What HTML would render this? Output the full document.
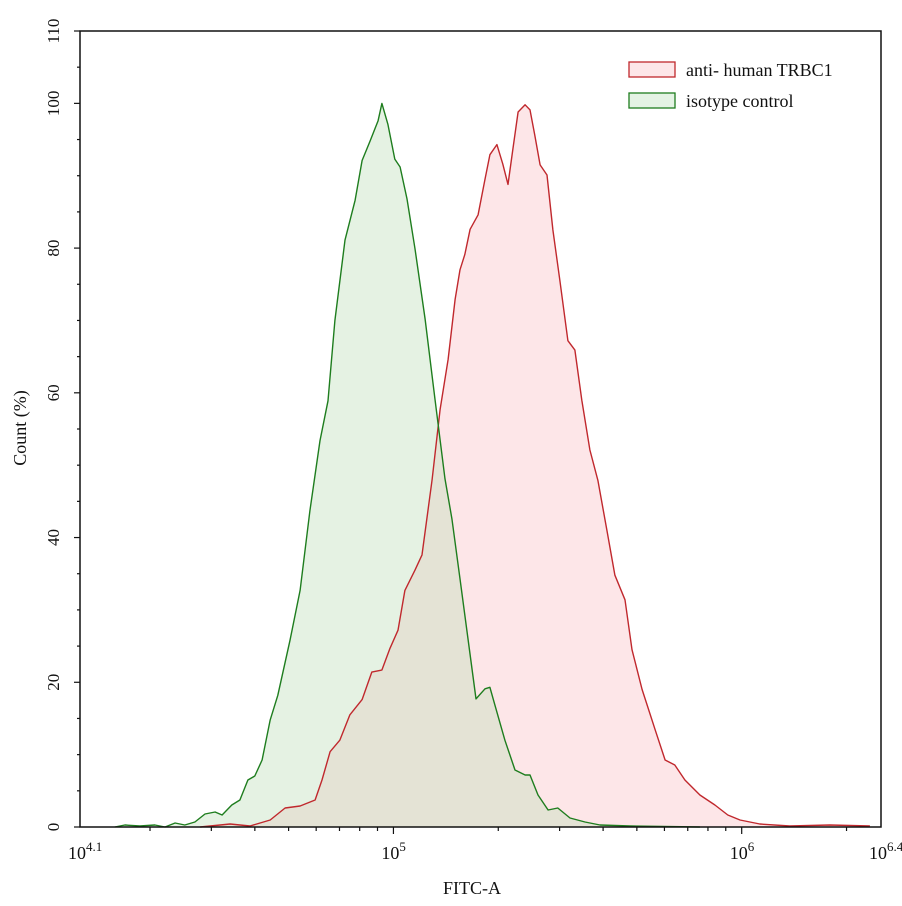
<!DOCTYPE html>
<html><head><meta charset="utf-8"><style>
body{margin:0;background:#fff}
svg{display:block;font-family:"Liberation Serif",serif}
</style></head><body>
<svg id="chart" width="902" height="906" viewBox="0 0 902 906">
<g id="fills"></g><g id="lines"></g><g id="axes"></g>
<g>
<rect x="629" y="62" width="46" height="15" fill="#fde6e8" stroke="#c0282d" stroke-width="1.3"/>
<text x="686" y="76" font-size="18" fill="#111">anti- human TRBC1</text>
<rect x="629" y="93" width="46" height="15" fill="#e4f3e4" stroke="#1e7d1e" stroke-width="1.3"/>
<text x="686" y="107" font-size="18" fill="#111">isotype control</text>
</g>
<text x="472" y="894" font-size="18" text-anchor="middle" fill="#111">FITC-A</text>
<text transform="translate(26,428) rotate(-90)" font-size="18" text-anchor="middle" fill="#111">Count  (%)</text>
</svg>
<script>
const greenX=[4.200,4.229,4.272,4.315,4.344,4.373,4.401,4.430,4.459,4.488,4.508,4.536,4.559,4.582,4.602,4.623,4.646,4.668,4.703,4.732,4.760,4.789,4.812,4.832,4.861,4.890,4.910,4.933,4.956,4.967,4.984,5.004,5.019,5.039,5.062,5.091,5.119,5.148,5.168,5.191,5.214,5.237,5.263,5.277,5.291,5.320,5.349,5.378,5.392,5.415,5.444,5.472,5.507,5.550,5.593,5.679,5.880];
const greenY=[0,0.28,0.14,0.28,0,0.55,0.28,0.69,1.8,2.07,1.66,3.04,3.73,6.5,7.05,9.26,14.8,18.2,25.8,32.7,43.7,53.4,58.9,70,81.1,86.6,92.1,94.8,97.6,100,97.1,92.3,91.2,86.8,79.9,70.2,59.2,48.1,42.6,34.3,26,17.7,19.1,19.3,16.9,12,7.88,7.19,7.19,4.42,2.35,2.63,1.24,0.69,0.28,0.14,0];
const redX=[4.445,4.531,4.588,4.646,4.689,4.732,4.775,4.795,4.818,4.846,4.875,4.910,4.938,4.967,4.990,5.013,5.033,5.062,5.082,5.111,5.134,5.157,5.177,5.191,5.205,5.220,5.243,5.263,5.277,5.297,5.314,5.329,5.343,5.358,5.378,5.392,5.406,5.421,5.441,5.458,5.478,5.501,5.521,5.541,5.564,5.587,5.613,5.636,5.665,5.685,5.714,5.751,5.780,5.808,5.837,5.880,5.923,5.960,5.995,6.052,6.138,6.253,6.368];
const redY=[0,0.41,0.14,0.97,2.63,2.9,3.73,6.5,10.4,12,15.5,17.6,21.4,21.7,24.7,27.2,32.7,35.5,37.6,48,57.7,64.6,72.9,77,79.1,82.6,84.6,89.5,92.9,94.3,91.6,88.8,93.7,98.8,99.8,99.1,95.6,91.5,90.1,82.5,75.5,67.2,65.9,59,52.1,47.9,41,34.8,31.4,24.5,19,13.5,9.26,8.57,6.5,4.42,3.04,1.66,0.97,0.41,0.14,0.28,0.14];
const yTicks=[0,20,40,60,80,100,110];
const xDecades=[5,6];
const NS='http://www.w3.org/2000/svg';
const L=80,R=881,T=31,B=827,XMIN=4.1,XMAX=6.4,YMAX=110;
const sx=v=>L+(v-XMIN)/(XMAX-XMIN)*(R-L);
const sy=v=>B-v/YMAX*(B-T);
function mk(tag,attrs,parent){const e=document.createElementNS(NS,tag);for(const k in attrs)e.setAttribute(k,attrs[k]);parent.appendChild(e);return e;}
const fills=document.getElementById('fills'),lines=document.getElementById('lines'),axes=document.getElementById('axes');
function series(xs,ys,fill,stroke,name){
  let d='M'+sx(xs[0]).toFixed(1)+','+sy(ys[0]).toFixed(1);
  for(let i=1;i<xs.length;i++)d+='L'+sx(xs[i]).toFixed(1)+','+sy(ys[i]).toFixed(1);
  const a=mk('path',{d:d+'L'+sx(xs[xs.length-1]).toFixed(1)+','+B+'L'+sx(xs[0]).toFixed(1)+','+B+'Z',fill:fill},fills);
  
  
  const l=mk('path',{d:d,fill:'none',stroke:stroke,'stroke-width':1.4,'stroke-linejoin':'round'},lines);
  
  
}
series(redX,redY,'rgba(251,205,210,0.5)','#c0282d','trbc1');
series(greenX,greenY,'rgba(190,222,185,0.4)','#1e7d1e','isotype');
const frame=mk('rect',{x:L,y:T,width:R-L,height:B-T,fill:'none',stroke:'#111','stroke-width':1.5},axes);


for(let v=0;v<=YMAX;v+=5){mk('line',{x1:L-(v%20==0||v==110?6:3),x2:L,y1:sy(v),y2:sy(v),stroke:'#111','stroke-width':1.2},axes);}
yTicks.forEach(v=>{const t=mk('text',{transform:`translate(${L-21},${sy(v)}) rotate(-90)`,'font-size':17,'text-anchor':'middle',fill:'#111'},axes);t.textContent=v;

});
for(let d=4;d<=6;d++)for(let m=1;m<10;m++){const lv=d+Math.log10(m);if(lv<XMIN||lv>XMAX)continue;
 mk('line',{x1:sx(lv),x2:sx(lv),y1:B,y2:B+(m==1?7:4),stroke:'#111','stroke-width':1.2},axes);}
function xl(lv,exp){const t=mk('text',{x:sx(lv)-12,y:B+32,'font-size':18,fill:'#111'},axes);t.textContent='10';
 const s=mk('tspan',{dy:-8,'font-size':13},t);s.textContent=exp;
 
 }
xl(XMIN,'4.1');xDecades.forEach(d=>xl(d,String(d)));xl(XMAX,'6.4');
</script>
</body></html>
